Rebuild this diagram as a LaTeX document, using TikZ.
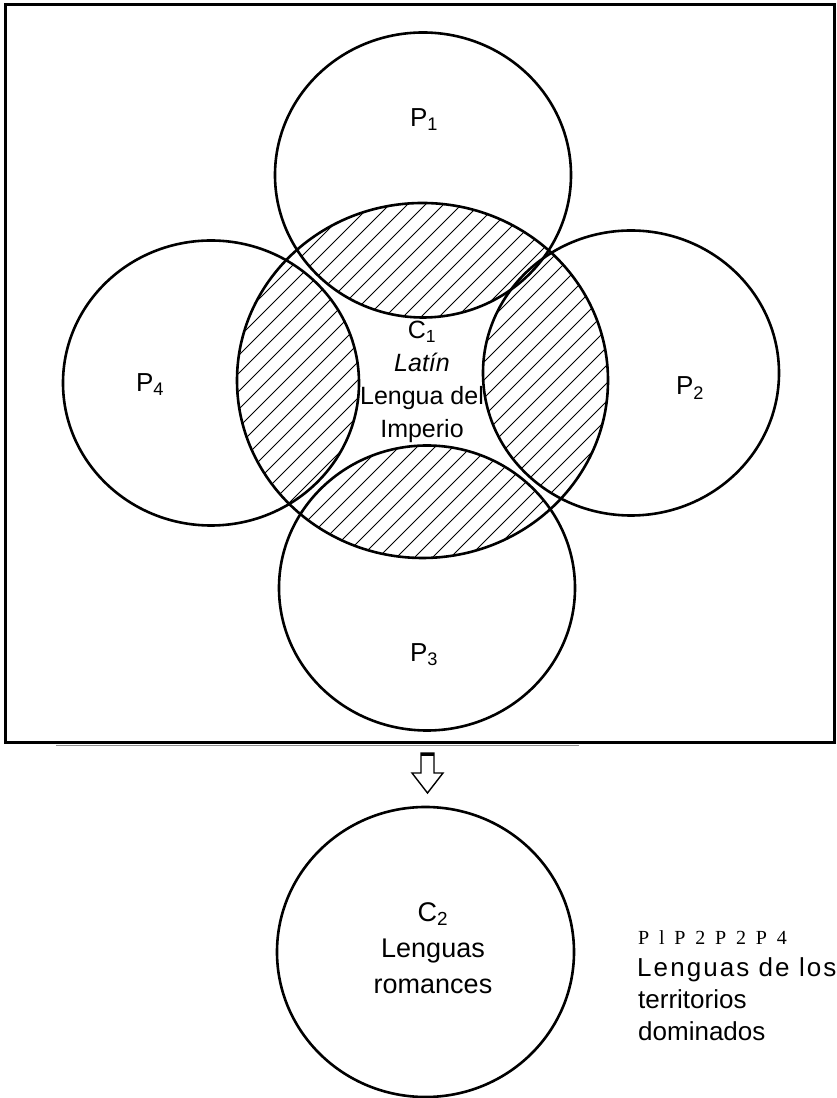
\documentclass[tikz,border=0pt]{standalone}
\usepackage{fontspec}
\setmainfont{Liberation Sans}
\newfontfamily\spacedsans[LetterSpace=8]{Liberation Sans}
\newfontfamily\spacedserif[LetterSpace=24]{Liberation Serif}

\begin{document}
\begin{tikzpicture}[x=1pt, y=1pt,
    ring/.style={line width=2.6pt},
    hatch/.style={line width=1pt},
    lbl/.style={inner sep=0pt, font=\fontsize{26}{30}\selectfont},
    biglbl/.style={inner sep=0pt, align=center, font=\fontsize{27}{36}\selectfont}]
  % Pixel grid of the scan: x to the right, y upwards, 837 x 1098
  % the scan is a little squeezed upright, so the circles are drawn
  % as ellipses: P rx = 148, ry = 142.5 ; C1 rx = 185.5, ry = 177.5
  \useasboundingbox (0,0) rectangle (837,1098);

  % --- centres ---
  \coordinate (c1) at (422.5,717.5);
  \coordinate (p1) at (423,923);
  \coordinate (p2) at (631,725);
  \coordinate (p3) at (427,510);
  \coordinate (p4) at (211,715);
  \coordinate (c2) at (425.5,146);

  % --- hatched overlaps of C1 with each P ---
  \foreach \p in {p1, p2, p3, p4} {
    \begin{scope}
      \clip (c1) ellipse[x radius=185.5, y radius=177.5];
      \clip (\p) ellipse[x radius=148, y radius=142.5];
      \foreach \k in {-90,-72,...,670}
        \draw[hatch] (150,150+\k) -- (750,750+\k);
    \end{scope}
  }

  % --- circles ---
  \draw[ring] (c1) ellipse[x radius=185.5, y radius=177.5];
  \foreach \p in {p1, p2, p3, p4}
    \draw[ring] (\p) ellipse[x radius=148, y radius=142.5];
  \draw[ring] (c2) ellipse[x radius=148.5, y radius=145];

  % --- frame round the upper diagram ---
  \draw[line width=3pt] (5,355) rectangle (834,1093);
  \draw[line width=1pt, black!45] (56,352.5) -- (579,352.5);

  % --- hollow arrow down to C2 ---
  \draw[line width=1.4pt, fill=white, line join=miter]
    (421,345) -- (421,325) -- (412,325) -- (427.5,305) -- (443,325)
    -- (434,325) -- (434,345) -- cycle;
  \draw[line width=3pt] (421,343.5) -- (434,343.5);

  % --- labels of the territories ---
  \node[lbl] (p1lbl) at (424,978) {P\textsubscript{1}};
  \node[lbl] (p2lbl) at (690,710) {P\textsubscript{2}};
  \node[lbl] (p3lbl) at (424,443) {P\textsubscript{3}};
  \node[lbl] (p4lbl) at (150,713) {P\textsubscript{4}};

  % --- labels of the two languages ---
  \node[lbl, align=center, font=\fontsize{25}{33}\selectfont] (c1lbl)
    at (422,716) {C\textsubscript{1}\\\textit{Latín}\\Lengua del\\Imperio};
  \node[biglbl] (c2lbl) at (433,150) {C\textsubscript{2}\\Lenguas\\romances};

  % --- side note ---
  \node[inner sep=0pt, anchor=base west, font=\spacedserif\fontsize{20}{24}\selectfont]
    (pnote) at (638,153) {P l P 2 P 2 P 4};
  \node[lbl, anchor=base west, font=\spacedsans\fontsize{26}{30}\selectfont]
    (note1) at (637,121) {Lenguas de los};
  \node[lbl, anchor=base west] (note2) at (638,89) {territorios};
  \node[lbl, anchor=base west] (note3) at (638,57) {dominados};

\end{tikzpicture}
\end{document}
